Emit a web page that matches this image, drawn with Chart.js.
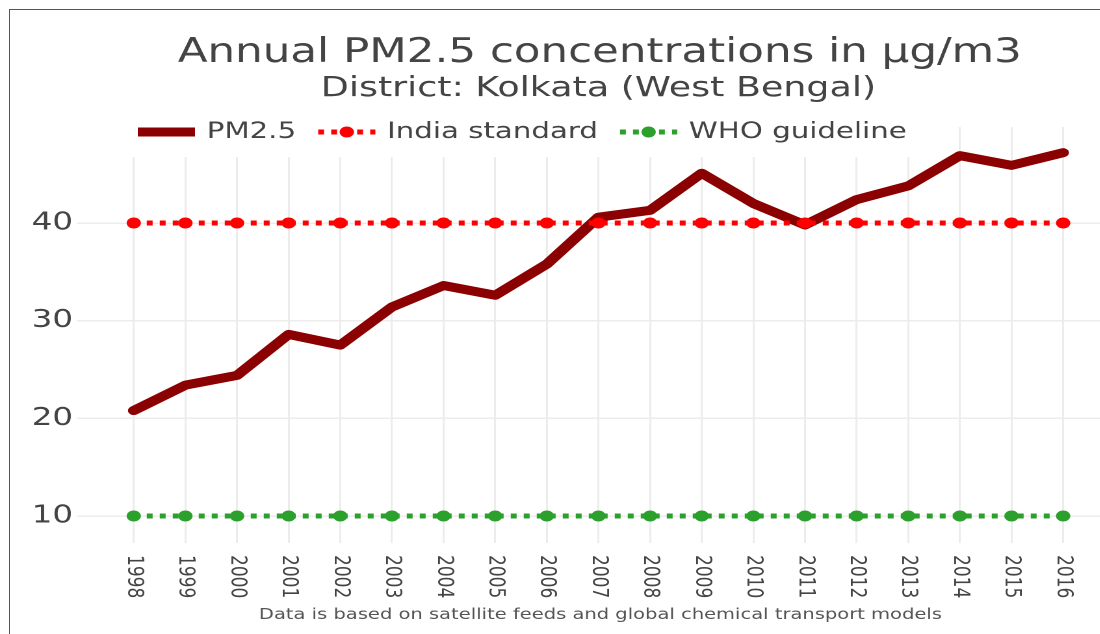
<!DOCTYPE html>
<html>
<head>
<meta charset="utf-8">
<script src="https://cdn.jsdelivr.net/npm/chart.js@4.4.1/dist/chart.umd.min.js"></script>
<style>
  html, body { margin: 0; padding: 0; background: #fff; width: 1100px; height: 634px; overflow: hidden; }
  /* the picture is stretched sideways, so the chart is drawn narrow and widened */
  #wrap { position: absolute; left: 0; top: 0; width: 867px; height: 634px; transform: scaleX(1.3); transform-origin: 0 0; }
  #frame { position: absolute; left: 9px; top: 9px; width: 1200px; height: 700px; border-left: 1px solid #555; border-top: 1px solid #555; pointer-events: none; }
</style>
</head>
<body>
<div id="wrap"><canvas id="chart" width="867" height="634"></canvas></div>
<div id="frame"></div>
<script>
const years = [1998, 1999, 2000, 2001, 2002, 2003, 2004, 2005, 2006, 2007,
               2008, 2009, 2010, 2011, 2012, 2013, 2014, 2015, 2016];
const pm25 = [20.8, 23.4, 24.4, 28.6, 27.5, 31.4, 33.6, 32.6, 35.8, 40.6,
              41.3, 45.1, 42.0, 39.8, 42.4, 43.8, 46.9, 45.9, 47.2];
const indiaStd = [40, 40, 40, 40, 40, 40, 40, 40, 40, 40, 40, 40, 40, 40, 40, 40, 40, 40, 40];
const whoGuide = [10, 10, 10, 10, 10, 10, 10, 10, 10, 10, 10, 10, 10, 10, 10, 10, 10, 10, 10];
const yTicks = [10, 20, 30, 40];

const FONT = 'DejaVu Sans';
const GRID = '#ececec';

const toPoints = (vals) => years.map((yr, i) => ({ x: yr, y: vals[i] }));

/* =========================
   TEXT, LEGEND, X LABELS
========================= */
const decor = {
  id: 'decor',
  afterDraw(chart) {
    const { ctx, chartArea, scales } = chart;
    const cx = (chartArea.left + chartArea.right) / 2;

    ctx.save();
    ctx.fillStyle = '#444';
    ctx.textAlign = 'center';
    ctx.textBaseline = 'alphabetic';
    ctx.font = `33.5px "${FONT}"`;
    ctx.fillText('Annual PM2.5 concentrations in μg/m3', cx + 1, 62);
    ctx.font = `28px "${FONT}"`;
    ctx.fillText('District: Kolkata (West Bengal)', cx, 96);

    // legend (white box hides grid lines under it)
    ctx.fillStyle = '#fff';
    ctx.fillRect(98, 108, 606, 49);
    const items = chart.data.datasets;
    let x = 106;
    const ly = 132;
    ctx.font = `22.5px "${FONT}"`;
    ctx.textAlign = 'left';
    ctx.textBaseline = 'middle';
    items.forEach(ds => {
      const w = 44;
      ctx.save();
      ctx.strokeStyle = ds.borderColor;
      ctx.lineWidth = ds.borderWidth;
      ctx.setLineDash(ds.borderDash || []);
      ctx.beginPath();
      ctx.moveTo(x, ly);
      ctx.lineTo(x + w, ly);
      ctx.stroke();
      if (ds.pointRadius) {
        ctx.fillStyle = ds.borderColor;
        ctx.beginPath();
        ctx.arc(x + w / 2, ly, ds.pointRadius, 0, Math.PI * 2);
        ctx.fill();
      }
      ctx.restore();
      x += w + 9;
      ctx.fillStyle = '#444';
      ctx.fillText(ds.label, x, ly);
      x += ctx.measureText(ds.label).width + 17;
    });

    // x tick labels, turned clockwise
    ctx.font = `17px "${FONT}"`;
    ctx.fillStyle = '#444';
    years.forEach(yr => {
      const px = scales.x.getPixelForValue(yr);
      ctx.save();
      ctx.translate(px, 555);
      ctx.rotate(Math.PI / 2);
      ctx.textAlign = 'left';
      ctx.textBaseline = 'middle';
      ctx.fillText(String(yr), 0, 0);
      ctx.restore();
    });

    ctx.font = `15px "${FONT}"`;
    ctx.fillStyle = '#555';
    ctx.textAlign = 'center';
    ctx.textBaseline = 'alphabetic';
    ctx.fillText('Data is based on satellite feeds and global chemical transport models', cx + 1.5, 619);
    ctx.restore();
  }
};

new Chart(document.getElementById('chart'), {
  type: 'line',
  data: {
    datasets: [
      {
        label: 'PM2.5',
        data: toPoints(pm25),
        borderColor: '#8b0000',
        borderWidth: 9,
        pointRadius: 0,
        borderCapStyle: 'round',
        borderJoinStyle: 'round',
        order: 3,
      },
      {
        label: 'India standard',
        data: toPoints(indiaStd),
        borderColor: '#ff0000',
        backgroundColor: '#ff0000',
        borderWidth: 5,
        borderDash: [4.5, 5.5],
        pointRadius: 5.5,
        pointBorderWidth: 0,
        pointBackgroundColor: '#ff0000',
        order: 2,
      },
      {
        label: 'WHO guideline',
        data: toPoints(whoGuide),
        borderColor: '#2ca02c',
        backgroundColor: '#2ca02c',
        borderWidth: 5,
        borderDash: [4.5, 5.5],
        pointRadius: 5.5,
        pointBorderWidth: 0,
        pointBackgroundColor: '#2ca02c',
        order: 1,
      },
    ],
  },
  options: {
    responsive: false,
    devicePixelRatio: 2,
    animation: false,
    layout: { padding: { top: 127, bottom: 91, left: 0, right: 0 } },
    plugins: {
      legend: { display: false },
      tooltip: { enabled: false },
      title: { display: false },
    },
    scales: {
      x: {
        type: 'linear',
        min: 1996.9,
        max: 2017.1,
        afterBuildTicks: (s) => { s.ticks = years.map(v => ({ value: v })); },
        ticks: { display: false },
        grid: { color: GRID, lineWidth: 1.5, drawTicks: false },
        border: { display: false },
      },
      y: {
        min: 7.24,
        max: 49.83,
        afterBuildTicks: (s) => { s.ticks = yTicks.map(v => ({ value: v })); },
        afterFit: (s) => { s.width = 59.2; },
        ticks: { padding: 3, color: '#444', font: { family: FONT, size: 25 } },
        grid: { color: GRID, lineWidth: 1.5, drawTicks: false },
        border: { display: false },
      },
    },
  },
  plugins: [decor],
});
</script>
</body>
</html>
